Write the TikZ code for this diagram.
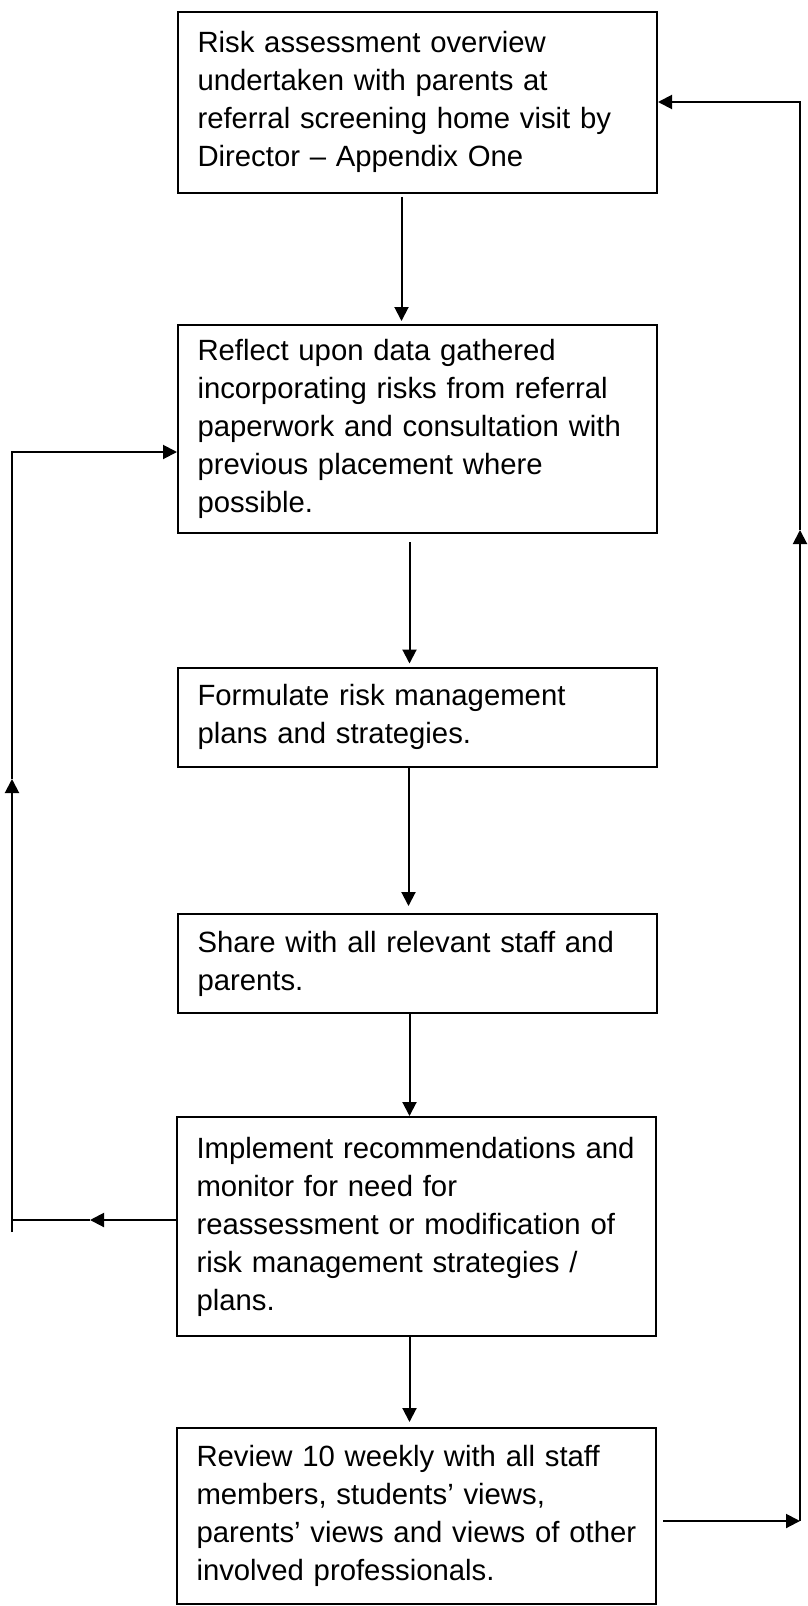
\documentclass[tikz,border=0pt]{standalone}
\usepackage{fontspec}
\setmainfont{Liberation Sans}
\usetikzlibrary{arrows.meta}

\tikzset{
  stagebox/.style={draw, line width=1pt, rectangle, text width=220pt, inner xsep=9.75pt, inner ysep=0pt,
    align=left, font=\fontsize{14.65pt}{19pt}\selectfont},
  flow/.style={line width=1pt, -{Triangle[length=7pt,width=7pt]}},
  link/.style={line width=1pt}
}

\begin{document}
\begin{tikzpicture}[x=0.5pt, y=-0.5pt]
				\useasboundingbox (0,0) rectangle (808,1606);

				% Draw the boxes
				\node[stagebox, minimum height=90.5pt] (risk) at (417.5,102.4) {Risk assessment overview\\ undertaken with parents at\\ referral screening home visit by\\ Director – Appendix One};
				\node[stagebox, minimum height=104pt] (reflect) at (417.5,429) {Reflect upon data gathered\\ incorporating risks from referral\\ paperwork and consultation with\\ previous placement where\\ possible.};
				\node[stagebox, minimum height=49.5pt] (formulate) at (417.5,717) {Formulate risk management\\ plans and strategies.};
				\node[stagebox, minimum height=49.5pt] (share) at (417.5,963.5) {Share with all relevant staff and\\ parents.};
				\node[stagebox, minimum height=109.5pt] (implement) at (416.5,1226.5) {Implement recommendations and\\ monitor for need for\\ reassessment or modification of\\ risk management strategies /\\ plans.};
				\node[stagebox, minimum height=88pt] (review) at (416.5,1516) {Review 10 weekly with all staff\\ members, students’ views,\\ parents’ views and views of other\\ involved professionals.};

				% Draw the arrows down the middle
				\draw[flow, shorten <=1.5pt, shorten >=1.5pt] ([xshift=-8pt]risk.south) -- ([xshift=-8pt]reflect.north);
				\draw[flow, shorten <=4pt, shorten >=1.5pt] ([xshift=-4pt]reflect.south) -- ([xshift=-4pt]formulate.north);
				\draw[flow, shorten >=3.5pt] ([xshift=-4.5pt]formulate.south) -- ([xshift=-4.5pt]share.north);
				\draw[flow] ([xshift=-4pt]share.south) -- ([xshift=-3.5pt]implement.north);
				\draw[flow, shorten >=2.5pt] ([xshift=-3.5pt]implement.south) -- ([xshift=-3.5pt]review.north);

				% Draw the loop back on the left
				\coordinate (lturn) at (12,1220);
				\coordinate (lfoot) at (12,1232);
				\coordinate (lleft) at (90,1220);
				\coordinate (lup) at (12,779);
				\coordinate (ltop) at (12,452);
				\draw[flow] (implement.west |- lturn) -- (lleft);
				\draw[link] (lleft) -- (lturn);
				\draw[flow] (lfoot) -- (lup);
				\draw[flow] (lup) -- (ltop) -- (ltop -| reflect.west);

				% Draw the loop back on the right
				\coordinate (rturn) at (800,1521);
				\coordinate (rup) at (800,530);
				\coordinate (rtop) at (800,102);
				\draw[flow] ([xshift=3pt]review.east |- rturn) -- (rturn);
				\draw[flow] (rturn) -- (rup);
				\draw[flow] (rup) -- (rtop) -- (rtop -| risk.east);
\end{tikzpicture}
\end{document}
